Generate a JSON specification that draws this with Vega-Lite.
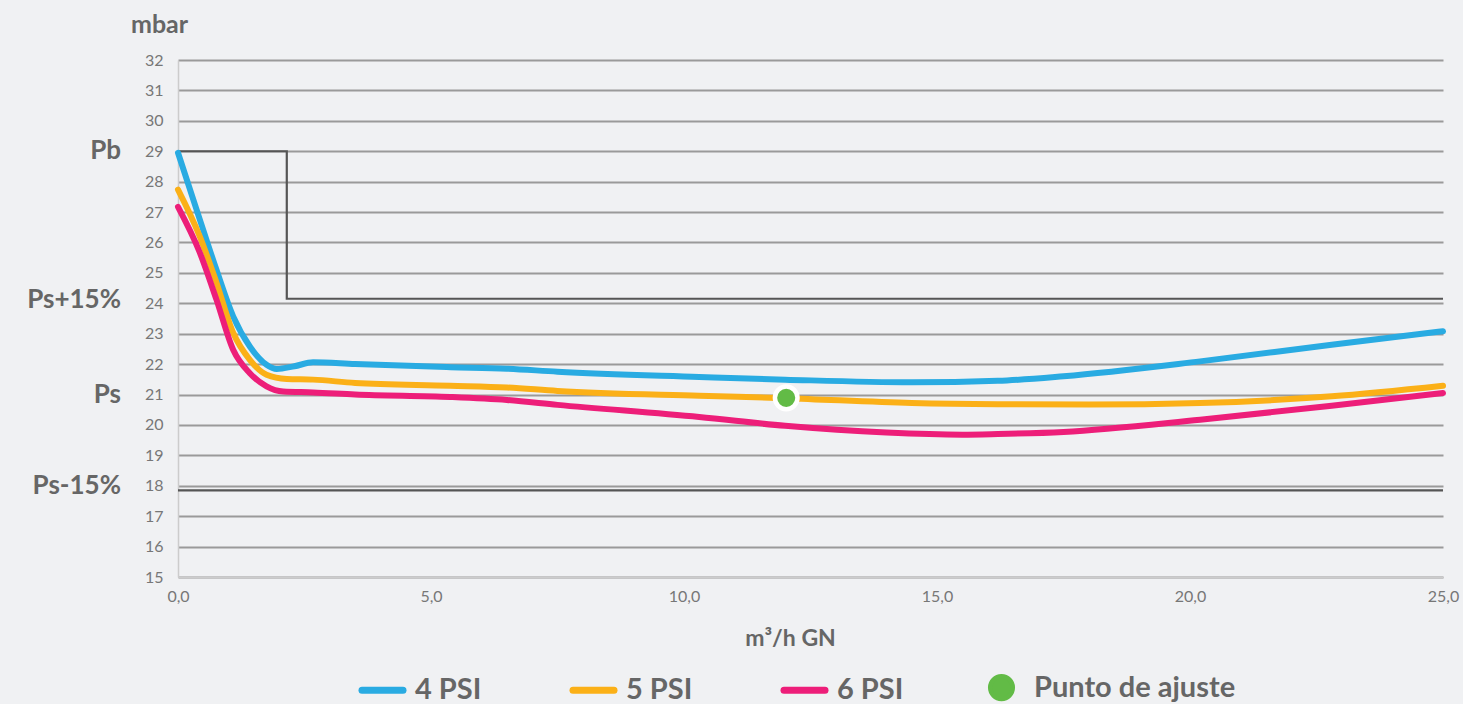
{
  "$schema": "https://vega.github.io/schema/vega-lite/v6.json",
  "autosize": {"type": "none"},
  "width": 1265,
  "height": 517,
  "padding": {"left": 178, "top": 60, "right": 20, "bottom": 127},
  "background": "#F0F1F3",
  "config": {
    "view": {"stroke": null},
    "font": "Lato"
  },
  "datasets": {
    "curves": [
      {"serie": "4 PSI", "x": 0, "y": 28.95},
      {"serie": "4 PSI", "x": 0.43, "y": 26.76},
      {"serie": "4 PSI", "x": 0.76, "y": 25.1},
      {"serie": "4 PSI", "x": 1.09, "y": 23.57},
      {"serie": "4 PSI", "x": 1.42, "y": 22.58},
      {"serie": "4 PSI", "x": 1.75, "y": 21.98},
      {"serie": "4 PSI", "x": 1.95, "y": 21.84},
      {"serie": "4 PSI", "x": 2.3, "y": 21.93},
      {"serie": "4 PSI", "x": 2.67, "y": 22.06},
      {"serie": "4 PSI", "x": 3.5, "y": 22.0},
      {"serie": "4 PSI", "x": 5.38, "y": 21.9},
      {"serie": "4 PSI", "x": 6.5, "y": 21.85},
      {"serie": "4 PSI", "x": 7.5, "y": 21.75},
      {"serie": "4 PSI", "x": 10.3, "y": 21.58},
      {"serie": "4 PSI", "x": 12, "y": 21.49},
      {"serie": "4 PSI", "x": 14.5, "y": 21.4},
      {"serie": "4 PSI", "x": 16.2, "y": 21.45},
      {"serie": "4 PSI", "x": 17.5, "y": 21.6},
      {"serie": "4 PSI", "x": 20.2, "y": 22.09},
      {"serie": "4 PSI", "x": 22.8, "y": 22.64},
      {"serie": "4 PSI", "x": 25, "y": 23.08},
      {"serie": "5 PSI", "x": 0, "y": 27.74},
      {"serie": "5 PSI", "x": 0.43, "y": 26.2},
      {"serie": "5 PSI", "x": 0.76, "y": 24.68},
      {"serie": "5 PSI", "x": 1.09, "y": 23.03},
      {"serie": "5 PSI", "x": 1.42, "y": 22.14},
      {"serie": "5 PSI", "x": 1.75, "y": 21.65},
      {"serie": "5 PSI", "x": 2.15, "y": 21.51},
      {"serie": "5 PSI", "x": 2.67, "y": 21.49},
      {"serie": "5 PSI", "x": 3.5, "y": 21.38},
      {"serie": "5 PSI", "x": 5.38, "y": 21.29},
      {"serie": "5 PSI", "x": 6.5, "y": 21.23},
      {"serie": "5 PSI", "x": 7.5, "y": 21.12},
      {"serie": "5 PSI", "x": 10.3, "y": 20.96},
      {"serie": "5 PSI", "x": 12, "y": 20.88},
      {"serie": "5 PSI", "x": 14.5, "y": 20.72},
      {"serie": "5 PSI", "x": 16.2, "y": 20.68},
      {"serie": "5 PSI", "x": 18, "y": 20.67},
      {"serie": "5 PSI", "x": 20.2, "y": 20.72},
      {"serie": "5 PSI", "x": 22.8, "y": 20.94},
      {"serie": "5 PSI", "x": 25, "y": 21.29},
      {"serie": "6 PSI", "x": 0, "y": 27.17},
      {"serie": "6 PSI", "x": 0.43, "y": 25.67},
      {"serie": "6 PSI", "x": 0.76, "y": 24.12},
      {"serie": "6 PSI", "x": 1.09, "y": 22.47},
      {"serie": "6 PSI", "x": 1.42, "y": 21.7},
      {"serie": "6 PSI", "x": 1.75, "y": 21.27},
      {"serie": "6 PSI", "x": 2.08, "y": 21.1},
      {"serie": "6 PSI", "x": 2.67, "y": 21.07},
      {"serie": "6 PSI", "x": 3.5, "y": 21.0},
      {"serie": "6 PSI", "x": 5.38, "y": 20.92},
      {"serie": "6 PSI", "x": 6.5, "y": 20.82},
      {"serie": "6 PSI", "x": 7.5, "y": 20.66},
      {"serie": "6 PSI", "x": 10.3, "y": 20.26},
      {"serie": "6 PSI", "x": 12, "y": 19.97},
      {"serie": "6 PSI", "x": 14, "y": 19.75},
      {"serie": "6 PSI", "x": 15.5, "y": 19.68},
      {"serie": "6 PSI", "x": 16.2, "y": 19.7},
      {"serie": "6 PSI", "x": 17.5, "y": 19.77},
      {"serie": "6 PSI", "x": 20.2, "y": 20.17},
      {"serie": "6 PSI", "x": 22.8, "y": 20.63},
      {"serie": "6 PSI", "x": 25, "y": 21.05}
    ],
    "step": [
      {"orden": 1, "x": 0, "y": 29},
      {"orden": 2, "x": 2.15, "y": 29},
      {"orden": 3, "x": 2.15, "y": 24.15},
      {"orden": 4, "x": 25, "y": 24.15}
    ],
    "punto": [
      {"serie": "Punto de ajuste", "x": 12.02, "y": 20.89}
    ],
    "etiquetas": [
      {"label": "Pb", "y": 29},
      {"label": "Ps+15%", "y": 24.1},
      {"label": "Ps", "y": 21},
      {"label": "Ps-15%", "y": 18.0}
    ],
    "limite": [
      {"y": 17.85}
    ]
  },
  "encoding": {
    "y": {
      "field": "y", "type": "quantitative",
      "scale": {"domain": [15, 32], "nice": false, "zero": false},
      "axis": {
        "values": [15, 16, 17, 18, 19, 20, 21, 22, 23, 24, 25, 26, 27, 28, 29, 30, 31, 32],
        "labelOverlap": false,
        "labelFlush": false,
        "grid": true, "gridColor": "#9A9A9A", "gridWidth": 1.8,
        "ticks": false,
        "domainColor": "#CCCCCC", "domainWidth": 1.5,
        "labelColor": "#777777", "labelFontSize": 16, "labelPadding": 15,
        "labelFont": "Lato",
        "title": "mbar",
        "titleFont": "Lato", "titleFontSize": 25, "titleFontWeight": "bold",
        "titleColor": "#666666", "titleAngle": 0,
        "titleX": -19, "titleY": -36,
        "titleAlign": "center", "titleBaseline": "middle"
      }
    }
  },
  "layer": [
    {
      "data": {"name": "step"},
      "mark": {"type": "line", "color": "#555555", "strokeWidth": 2.2, "interpolate": "linear"},
      "encoding": {
        "x": {
          "field": "x", "type": "quantitative",
          "scale": {"domain": [0, 25], "nice": false, "zero": false},
          "axis": {
            "values": [0, 5, 10, 15, 20, 25],
            "labelExpr": "replace(format(datum.value, '.1f'), '.', ',')",
            "labelFlush": false,
            "labelOverlap": false,
            "grid": false, "ticks": false,
            "domainColor": "#CCCCCC", "domainWidth": 1.5,
            "labelColor": "#777777", "labelFontSize": 16, "labelPadding": 11,
            "labelFont": "Lato",
            "title": "m³/h GN",
            "titleFont": "Lato", "titleFontSize": 23, "titleFontWeight": "bold",
            "titleColor": "#666666", "titleX": 612, "titleY": 61,
            "titleAlign": "center", "titleBaseline": "middle"
          }
        },
        "order": {"field": "orden", "type": "quantitative"}
      }
    },
    {
      "data": {"name": "limite"},
      "mark": {"type": "rule", "color": "#555555", "strokeWidth": 2.2}
    },
    {
      "data": {"name": "curves"},
      "mark": {"type": "line", "strokeWidth": 6, "interpolate": "monotone", "strokeCap": "round"},
      "encoding": {
        "x": {"field": "x", "type": "quantitative"},
        "color": {
          "field": "serie", "type": "nominal",
          "scale": {
            "domain": ["4 PSI", "5 PSI", "6 PSI", "Punto de ajuste"],
            "range": ["#29ABE2", "#FBB017", "#ED1E79", "#62BB46"]
          },
          "legend": {
            "title": null,
            "orient": "none",
            "direction": "horizontal",
            "legendX": 190,
            "legendY": 613,
            "labelFont": "Lato",
            "labelFontSize": 29,
            "labelFontWeight": "bold",
            "labelColor": "#666666",
            "labelOffset": 18,
            "labelLimit": 400,
            "columnPadding": 77,
            "symbolSize": 1681,
            "symbolStrokeWidth": 7,
            "symbolType": "stroke",
            "encode": {
              "symbols": {
                "update": {
                  "shape": {"signal": "datum.value === 'Punto de ajuste' ? 'circle' : 'stroke'"},
                  "size": {"signal": "datum.value === 'Punto de ajuste' ? 510 : 1681"},
                  "fill": {"signal": "datum.value === 'Punto de ajuste' ? '#62BB46' : 'transparent'"},
                  "stroke": {"signal": "datum.value === 'Punto de ajuste' ? '#FFFFFF' : (datum.value === '4 PSI' ? '#29ABE2' : (datum.value === '5 PSI' ? '#FBB017' : '#ED1E79'))"},
                  "strokeWidth": {"signal": "datum.value === 'Punto de ajuste' ? 4.5 : 7"},
                  "strokeCap": {"value": "round"},
                  "opacity": {"value": 1}
                }
              }
            }
          }
        }
      }
    },
    {
      "data": {"name": "punto"},
      "mark": {"type": "point", "filled": true, "size": 510, "fill": "#62BB46", "stroke": "#FFFFFF", "strokeWidth": 4.5, "opacity": 1},
      "encoding": {
        "x": {"field": "x", "type": "quantitative"},
        "color": {"field": "serie", "type": "nominal"}
      }
    },
    {
      "data": {"name": "etiquetas"},
      "mark": {"type": "text", "align": "right", "baseline": "middle", "dx": -57, "font": "Lato", "fontSize": 26, "fontWeight": "bold", "color": "#666666"},
      "encoding": {
        "x": {"datum": 0},
        "text": {"field": "label"}
      }
    }
  ]
}
